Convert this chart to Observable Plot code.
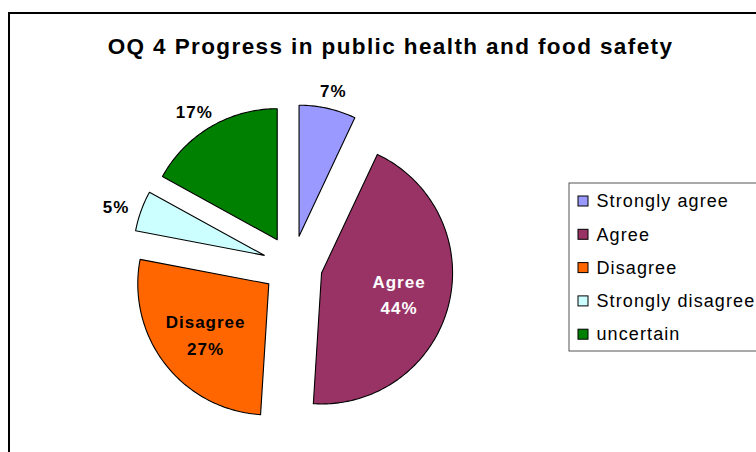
<!DOCTYPE html>
<html>
<head>
<meta charset="utf-8">
<script src="https://cdn.jsdelivr.net/npm/d3@7"></script>
<script src="https://cdn.jsdelivr.net/npm/@observablehq/plot@0.6"></script>
<style>
  html, body { margin: 0; padding: 0; background: #fff; overflow: hidden; }
  #chart svg { overflow: hidden; }
  #chart g[aria-description="chart title"] text { letter-spacing: 1.4px; }
  #chart g[aria-description="slice labels"] text { letter-spacing: 1px; }
  #chart g[aria-description="legend labels"] text { letter-spacing: 1.1px; }
</style>
</head>
<body>
<div id="chart"></div>
<script>
// ---- data ----
const title = "OQ 4 Progress in public health and food safety";
const categories = ["Strongly agree", "Agree", "Disagree", "Strongly disagree", "uncertain"];
const values = [7, 44, 27, 5, 17];

// ---- styles / layout ----
const palette = ["#9999FF", "#993366", "#FF6600", "#CCFFFF", "#008000"];
const W = 756, H = 452;
const cx = 292, cy = 265, R = 131, explode = 30;
const font = "'Liberation Sans', Arial, Helvetica, sans-serif";

const arcs = d3.pie().sort(null).value(d => d.value)(
  categories.map((c, i) => ({category: c, value: values[i]}))
);

const pt = (a, r) => [Math.sin(a) * r, -Math.cos(a) * r];

// polygon points of each exploded slice
const slicePts = [];
arcs.forEach(a => {
  const mid = (a.startAngle + a.endAngle) / 2;
  const [ox, oy] = pt(mid, explode);
  const ax = cx + ox, ay = cy + oy;
  slicePts.push({category: a.data.category, x: ax, y: ay});
  const n = Math.max(4, Math.ceil((a.endAngle - a.startAngle) / (Math.PI / 180)));
  for (let k = 0; k <= n; k++) {
    const ang = a.startAngle + (a.endAngle - a.startAngle) * k / n;
    const [px, py] = pt(ang, R);
    slicePts.push({category: a.data.category, x: ax + px, y: ay + py});
  }
});

// data labels (outside ones pushed away by half their box)
const labelData = arcs.map((a, i) => {
  const mid = (a.startAngle + a.endAngle) / 2;
  const inside = a.data.value >= 20;
  const text = inside ? `${a.data.category}\n${a.data.value}%` : `${a.data.value}%`;
  let x, y;
  if (inside) {
    const [lx, ly] = pt(mid, 110);
    x = cx + lx; y = cy + ly;
  } else {
    const w = String(a.data.value).length * 11 + 16, h = 14;
    const [lx, ly] = pt(mid, 174);
    x = cx + lx + Math.sin(mid) * w / 2;
    y = cy + ly - Math.cos(mid) * h / 2;
  }
  const fillc = inside ? (d3.lab(palette[i]).l < 50 ? "white" : "black") : "black";
  return {x, y, text, fill: fillc};
});

// legend
const legX = 583, legY0 = 201, legStep = 33.3;
const legend = categories.map((c, i) => ({category: c, x: legX, y: legY0 + i * legStep}));

const chart = Plot.plot({
  width: W,
  height: H,
  margin: 0,
  style: {fontFamily: font, background: "white"},
  x: {domain: [0, W], range: [0, W], axis: null},
  y: {domain: [0, H], range: [0, H], axis: null},
  color: {type: "ordinal", domain: categories, range: palette},
  marks: [
    // outer chart border
    Plot.rect([0], {x1: () => 9, x2: () => W + 20, y1: () => 13, y2: () => H + 20,
      fill: "white", stroke: "black", strokeWidth: 2}),
    // title
    Plot.text([title], {x: () => 390, y: () => 46, text: d => d, ariaDescription: "chart title",
      fontSize: 22.5, fontWeight: "bold", fill: "black", textAnchor: "middle",
      lineAnchor: "middle"}),
    // slices
    Plot.line(slicePts, {x: "x", y: "y", z: "category", fill: "category",
      stroke: "black", strokeWidth: 1.1, curve: "linear-closed", strokeLinejoin: "round"}),
    // labels
    Plot.text(labelData, {x: "x", y: "y", text: "text", fill: "fill", ariaDescription: "slice labels",
      fontSize: 17, fontWeight: "bold", lineHeight: 1.55, lineAnchor: "middle",
      textAnchor: "middle"}),
    // legend box
    Plot.rect([0], {x1: () => 569, x2: () => W + 20, y1: () => 183, y2: () => 351,
      fill: "white", stroke: "#555", strokeWidth: 1}),
    Plot.rect(legend, {x1: d => d.x - 5, x2: d => d.x + 5, y1: d => d.y - 5, y2: d => d.y + 5,
      fill: "category", stroke: "black", strokeWidth: 1}),
    Plot.text(legend, {x: d => d.x + 13, y: "y", text: "category", textAnchor: "start",
      ariaDescription: "legend labels", lineAnchor: "middle", fontSize: 18, fill: "black"})
  ]
});
document.getElementById("chart").appendChild(chart);
</script>
</body>
</html>
